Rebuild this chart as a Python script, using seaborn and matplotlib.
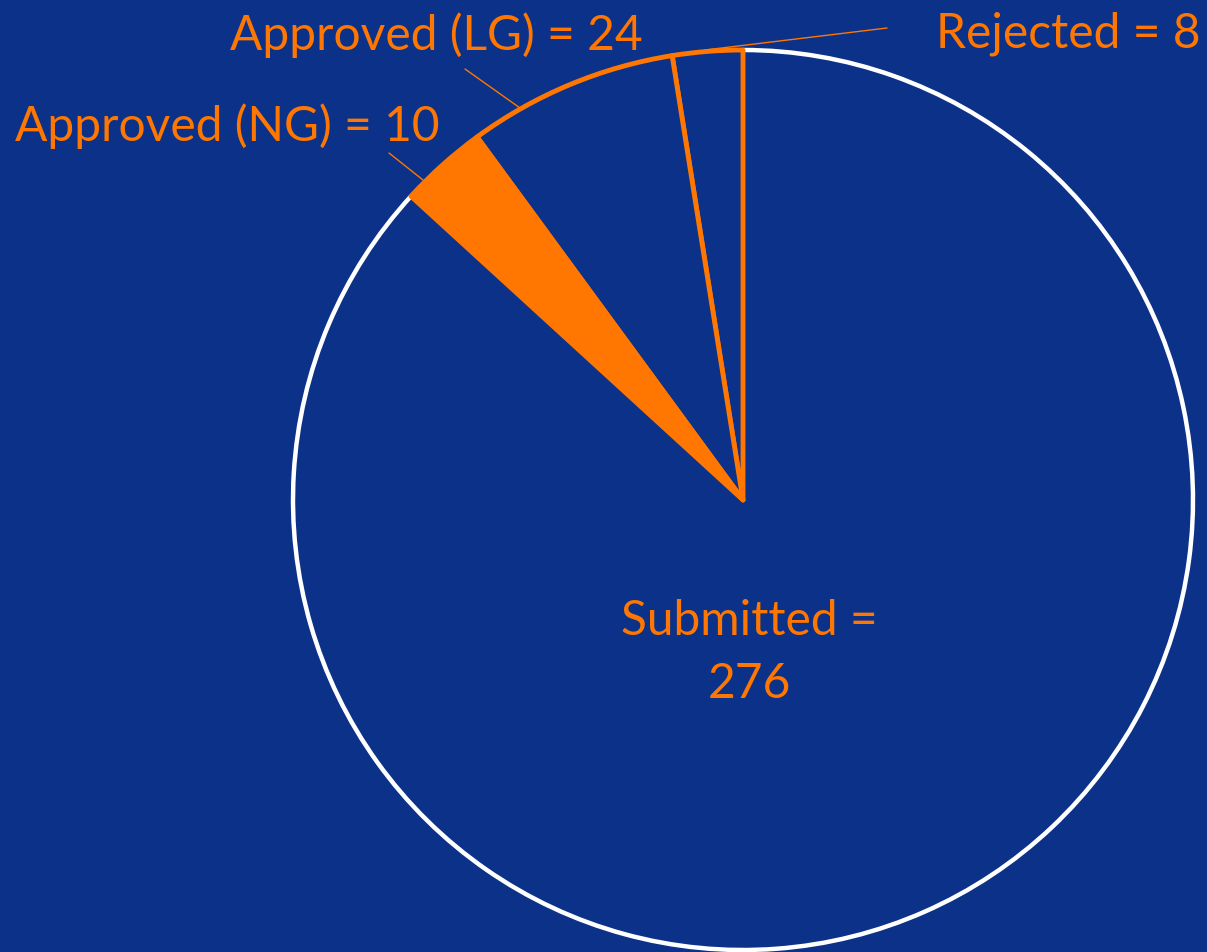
import numpy as np
import matplotlib
matplotlib.use("Agg")
import matplotlib.pyplot as plt
from matplotlib.patches import Arc
import seaborn as sns

# Данні діаграми
labels = ["Rejected", "Approved (LG)", "Approved (NG)", "Submitted"]
counts = [8, 24, 10, 276]

BG = "#0B3189"
ORANGE = "#FF7700"

sns.set_style("white")
plt.rcParams["font.family"] = ["Lato", "DejaVu Sans"]

fig = plt.figure(figsize=(12.07, 9.52), dpi=100, facecolor=BG)
ax = fig.add_axes([0, 0, 1, 1])
ax.set_facecolor(BG)

cx, cy, r = 743, 452, 450
fills = [BG, BG, ORANGE, BG]
wedges, _ = ax.pie(counts, startangle=90, counterclock=True, center=(cx, cy),
                   radius=r, colors=fills,
                   wedgeprops=dict(linewidth=3.5, edgecolor=ORANGE, joinstyle="round"))

# Submitted: без радіальних ліній, тільки біла дуга
sub = wedges[3]
sub.set_linewidth(0)
sub.set_zorder(1)
for w in wedges[:3]:
    w.set_zorder(3)
ax.add_patch(Arc((cx, cy), 2 * r, 2 * r, theta1=sub.theta1, theta2=sub.theta2,
                 color="white", linewidth=3.2, zorder=2))

ax.set_xlim(0, 1207)
ax.set_ylim(0, 952)
ax.set_aspect("equal")
ax.axis("off")

fs = 34.5
txt = dict(color=ORANGE, fontsize=fs, va="baseline")
ax.text(936, 952 - 47, f"{labels[0]} = {counts[0]}", ha="left", **txt)
ax.text(230, 952 - 50, f"{labels[1]} = {counts[1]}", ha="left", **txt)
ax.text(15, 952 - 141, f"{labels[2]} = {counts[2]}", ha="left", **txt)
ax.text(749, 952 - 635, f"{labels[3]} =", ha="center", **txt)
ax.text(749, 952 - 698, f"{counts[3]}", ha="center", **txt)

# Лінії-виноски
leaders = [((705, 50), (887, 28)), ((520, 108), (465, 69)), ((423, 180), (389, 153))]
for (x0, y0), (x1, y1) in leaders:
    ax.plot([x0, x1], [952 - y0, 952 - y1], color=ORANGE, linewidth=1, zorder=4)

fig.savefig("out.png", dpi=100, facecolor=BG)
